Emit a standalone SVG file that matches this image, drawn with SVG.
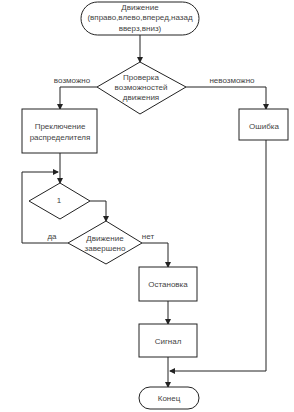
<svg xmlns="http://www.w3.org/2000/svg" width="294" height="412" viewBox="0 0 294 412">
<style>
.s{fill:#fff;stroke:#222;stroke-width:1}
.t{font-family:"Liberation Sans",Arial,sans-serif;font-size:8px;fill:#444;text-anchor:middle;dominant-baseline:central}
.c{fill:none;stroke:#222;stroke-width:1}
</style>
<defs>
<marker id="a" markerWidth="6" markerHeight="6" refX="5" refY="3" orient="auto" markerUnits="userSpaceOnUse">
<path d="M0,0 L6,3 L0,6 Z" fill="#222"/>
</marker>
</defs>
<rect width="294" height="412" fill="#fff"/>
<g id="connectors">
<path class="c" d="M140,35 V62" stroke="#777" stroke-width="1.5" marker-end="url(#a)"/>
<path class="c" d="M97,87 H60 V109" marker-end="url(#a)"/>
<path class="c" d="M186,87 H266 V109" marker-end="url(#a)"/>
<path class="c" d="M60,153 V183" marker-end="url(#a)"/>
<path class="c" d="M68,243 H22 V172 H58" marker-end="url(#a)"/>
<path class="c" d="M90,201 H106 V221" marker-end="url(#a)"/>
<path class="c" d="M142,243 H168 V267" marker-end="url(#a)"/>
<path class="c" d="M168,301 V324" marker-end="url(#a)"/>
<path class="c" d="M168,357 V387" marker-end="url(#a)"/>
<path class="c" d="M266,140 V371 H170" marker-end="url(#a)"/>
<text class="t" x="72" y="80">возможно</text>
<text class="t" x="232" y="80">невозможно</text>
<text class="t" x="52" y="236">да</text>
<text class="t" x="148" y="236">нет</text>
</g>
<g id="start">
<rect class="s" x="81" y="2" width="118" height="33" rx="16.5"/>
<text class="t" x="140" y="7">Движение</text>
<text class="t" x="140" y="17.5">(вправо,влево,вперед,назад</text>
<text class="t" x="140" y="28">вверз,вниз)</text>
</g>
<g id="check">
<polygon class="s" points="140,62 186,87 140,114 97,87"/>
<text class="t" x="141" y="77">Проверка</text>
<text class="t" x="141" y="87">возможностей</text>
<text class="t" x="141" y="97">движения</text>
</g>
<g id="switch">
<rect class="s" x="22" y="109" width="75" height="44"/>
<text class="t" x="60" y="126">Преключение</text>
<text class="t" x="60" y="137">распределителя</text>
</g>
<g id="error">
<rect class="s" x="239" y="109" width="49" height="31"/>
<text class="t" x="264" y="126">Ошибка</text>
</g>
<g id="d1">
<polygon class="s" points="60,183 90,201 60,219 29,201"/>
<text class="t" x="59" y="200">1</text>
</g>
<g id="done">
<polygon class="s" points="106,221 142,243 106,264 68,243"/>
<text class="t" x="105" y="238">Движение</text>
<text class="t" x="105" y="248">завершено</text>
</g>
<g id="stop">
<rect class="s" x="139" y="267" width="58" height="34"/>
<text class="t" x="168" y="284">Остановка</text>
</g>
<g id="signal">
<rect class="s" x="139" y="324" width="58" height="33"/>
<text class="t" x="168" y="341">Сигнал</text>
</g>
<g id="end">
<rect class="s" x="139" y="387" width="60" height="22" rx="11"/>
<text class="t" x="169" y="398">Конец</text>
</g>
</svg>
